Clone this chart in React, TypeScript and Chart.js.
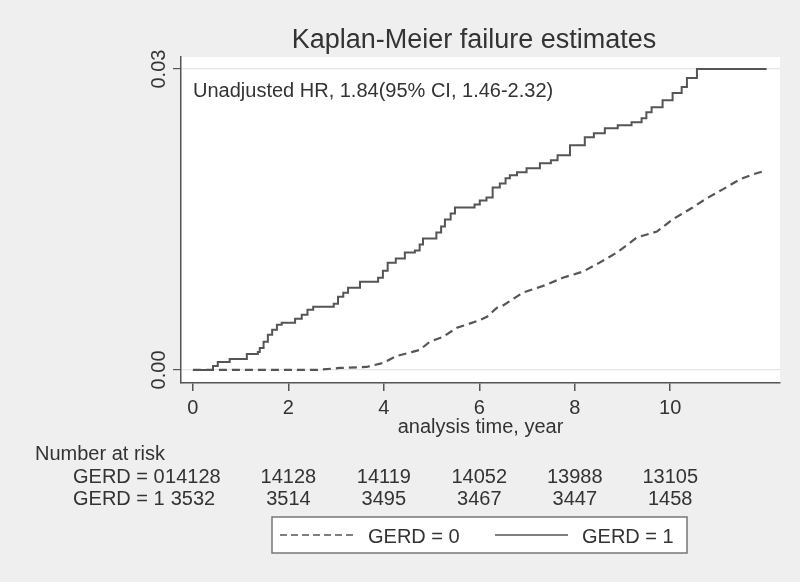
import React, { useEffect, useRef } from "react";
import { Chart, registerables } from "chart.js";

Chart.register(...registerables);

const titleText = "Kaplan-Meier failure estimates";
const hrText = "Unadjusted HR, 1.84(95% CI, 1.46-2.32)";
const xAxisTitle = "analysis time, year";
const riskTitle = "Number at risk";
const seriesLabels = ["GERD = 0", "GERD = 1"];

const xTicks = [0, 2, 4, 6, 8, 10];
const yTicks = [0, 0.03];
const yTickLabels = ["0.00", "0.03"];

// GERD = 0 (dashed)
const gerd0Time = [0, 2.6, 3.08, 3.64, 3.98, 4.27, 4.6, 4.75, 4.96, 5.24, 5.53, 5.97, 6.16, 6.37, 6.49, 6.91, 7.41, 7.75, 8.17, 8.52, 8.88, 9.3, 9.72, 10.05, 10.47, 10.76, 11.1, 11.46, 11.73, 12.02];
const gerd0Fail = [0, 0, 0.0002, 0.0003, 0.0007, 0.0014, 0.0018, 0.002, 0.0028, 0.0033, 0.0042, 0.0049, 0.0053, 0.0062, 0.0064, 0.0077, 0.0085, 0.0092, 0.0098, 0.0107, 0.0117, 0.0132, 0.0138, 0.015, 0.0162, 0.0171, 0.018, 0.019, 0.0195, 0.0199];

// GERD = 1 (solid)
const gerd1Time = [0, 0.31, 0.42, 0.52, 0.77, 1.13, 1.36, 1.4, 1.48, 1.57, 1.66, 1.76, 1.86, 2.14, 2.28, 2.4, 2.52, 2.95, 3.04, 3.15, 3.25, 3.5, 3.88, 3.98, 4.08, 4.25, 4.44, 4.65, 4.75, 4.82, 5.1, 5.2, 5.28, 5.4, 5.49, 5.9, 6.01, 6.15, 6.28, 6.43, 6.55, 6.64, 6.79, 6.99, 7.27, 7.5, 7.64, 7.9, 8.21, 8.4, 8.63, 8.9, 9.19, 9.4, 9.5, 9.61, 9.84, 10.05, 10.24, 10.35, 10.56, 12.02];
const gerd1Fail = [0, 0, 0.0004, 0.0008, 0.0011, 0.0016, 0.0018, 0.0022, 0.0028, 0.0035, 0.004, 0.0045, 0.0047, 0.0051, 0.0055, 0.006, 0.0063, 0.0066, 0.0073, 0.0077, 0.0082, 0.0088, 0.0092, 0.0099, 0.0107, 0.0111, 0.0117, 0.0119, 0.0125, 0.0131, 0.0137, 0.0143, 0.015, 0.0156, 0.0162, 0.0165, 0.0169, 0.0172, 0.0182, 0.0186, 0.0191, 0.0194, 0.0197, 0.0201, 0.0206, 0.0209, 0.0214, 0.0224, 0.0232, 0.0236, 0.0241, 0.0244, 0.0247, 0.0251, 0.0257, 0.0262, 0.0269, 0.0276, 0.0282, 0.0291, 0.03, 0.03];

const riskTimes = [0, 2, 4, 6, 8, 10];
const riskGerd0 = [14128, 14128, 14119, 14052, 13988, 13105];
const riskGerd1 = [3532, 3514, 3495, 3467, 3447, 1458];

const FONT = '"Liberation Sans", Arial, sans-serif';
const TEXT = "#333333";
const LINE = "#555555";

const decorPlugin = {
  id: "decor",
  beforeDraw(chart: any) {
    const { ctx, chartArea } = chart;
    ctx.save();
    ctx.fillStyle = "#efefef";
    ctx.fillRect(0, 0, chart.width, chart.height);
    ctx.fillStyle = "#ffffff";
    ctx.fillRect(chartArea.left, chartArea.top, chartArea.right - chartArea.left, chartArea.bottom - chartArea.top);
    ctx.restore();
  },
  afterDraw(chart: any) {
    const { ctx, chartArea } = chart;
    const xs = chart.scales.x;
    const ys = chart.scales.y;
    ctx.save();
    ctx.fillStyle = TEXT;
    // Title
    ctx.font = `27px ${FONT}`;
    ctx.textAlign = "center";
    ctx.textBaseline = "alphabetic";
    ctx.fillText(titleText, 474, 48);
    // HR annotation
    ctx.font = `20px ${FONT}`;
    ctx.textAlign = "left";
    ctx.fillText(hrText, 193, 97);
    // Y tick labels (rotated)
    yTicks.forEach((v, i) => {
      const py = ys.getPixelForValue(v);
      ctx.save();
      ctx.translate(165, py);
      ctx.rotate(-Math.PI / 2);
      ctx.textAlign = "center";
      ctx.fillText(yTickLabels[i], 0, 0);
      ctx.restore();
    });
    // X axis title
    ctx.textAlign = "center";
    ctx.fillText(xAxisTitle, (chartArea.left + chartArea.right) / 2, 433);
    // Number at risk
    ctx.textAlign = "left";
    ctx.fillText(riskTitle, 35, 460);
    ctx.fillText(seriesLabels[0], 73, 483);
    ctx.fillText(seriesLabels[1], 73, 505);
    ctx.textAlign = "center";
    riskTimes.forEach((t, i) => {
      const px = xs.getPixelForValue(t);
      ctx.fillText(String(riskGerd0[i]), px, 483);
      ctx.fillText(String(riskGerd1[i]), px, 505);
    });
    // Legend
    ctx.fillStyle = "#ffffff";
    ctx.fillRect(272, 517, 415, 36);
    ctx.strokeStyle = "#777777";
    ctx.lineWidth = 1.5;
    ctx.strokeRect(272, 517, 415, 36);
    const ds = chart.data.datasets;
    const items = [
      { x0: 280, x1: 357, tx: 368, ds: ds[0], dash: [7, 4] },
      { x0: 495, x1: 568, tx: 582, ds: ds[1], dash: [] as number[] },
    ];
    items.forEach((it, i) => {
      ctx.beginPath();
      ctx.strokeStyle = it.ds.borderColor;
      ctx.lineWidth = 1.5;
      ctx.setLineDash(it.dash);
      ctx.moveTo(it.x0, 535);
      ctx.lineTo(it.x1, 535);
      ctx.stroke();
      ctx.setLineDash([]);
      ctx.fillStyle = TEXT;
      ctx.textAlign = "left";
      ctx.fillText(seriesLabels[i], it.tx, 543);
    });
    ctx.restore();
  },
};

export default function App() {
  const ref = useRef<HTMLCanvasElement>(null);
  useEffect(() => {
    if (!ref.current) return;
    const chart = new Chart(ref.current, {
      type: "line",
      data: {
        datasets: [
          {
            label: seriesLabels[0],
            data: gerd0Time.map((t, i) => ({ x: t, y: gerd0Fail[i] })),
            borderColor: LINE,
            borderWidth: 2.2,
            borderDash: [8, 5],
            pointRadius: 0,
            tension: 0,
          },
          {
            label: seriesLabels[1],
            data: gerd1Time.map((t, i) => ({ x: t, y: gerd1Fail[i] })),
            borderColor: LINE,
            borderWidth: 2,
            pointRadius: 0,
            stepped: "before",
          },
        ],
      },
      options: {
        responsive: false,
        animation: false,
        layout: { padding: { left: 0, top: 57, right: 20, bottom: 159 } },
        plugins: { legend: { display: false }, title: { display: false }, tooltip: { enabled: false } },
        scales: {
          x: {
            type: "linear",
            min: -0.25,
            max: 12.3,
            afterBuildTicks: (s: any) => { s.ticks = xTicks.map((v) => ({ value: v })); },
            afterFit: (s: any) => { s.height = 40; },
            grid: { drawOnChartArea: false, drawTicks: true, tickLength: 8, tickColor: LINE, lineWidth: 1.5 },
            border: { display: true, color: LINE, width: 1.5 },
            ticks: { color: TEXT, font: { size: 20, family: FONT }, padding: 5, maxRotation: 0, autoSkip: false },
          },
          y: {
            type: "linear",
            min: -0.0013,
            max: 0.0312,
            afterBuildTicks: (s: any) => { s.ticks = yTicks.map((v) => ({ value: v })); },
            afterFit: (s: any) => { s.width = 181; },
            grid: { drawOnChartArea: true, color: "#e6e6e6", drawTicks: true, tickLength: 8, tickColor: LINE, lineWidth: 1.2 },
            border: { display: true, color: LINE, width: 1.5 },
            ticks: { display: false },
          },
        },
      },
      plugins: [decorPlugin],
    } as any);
    return () => chart.destroy();
  }, []);
  return (
    <div style={{ position: "fixed", left: 0, top: 0, width: 800, height: 582 }}>
      <canvas ref={ref} width={800} height={582} style={{ width: 800, height: 582 }} />
    </div>
  );
}
